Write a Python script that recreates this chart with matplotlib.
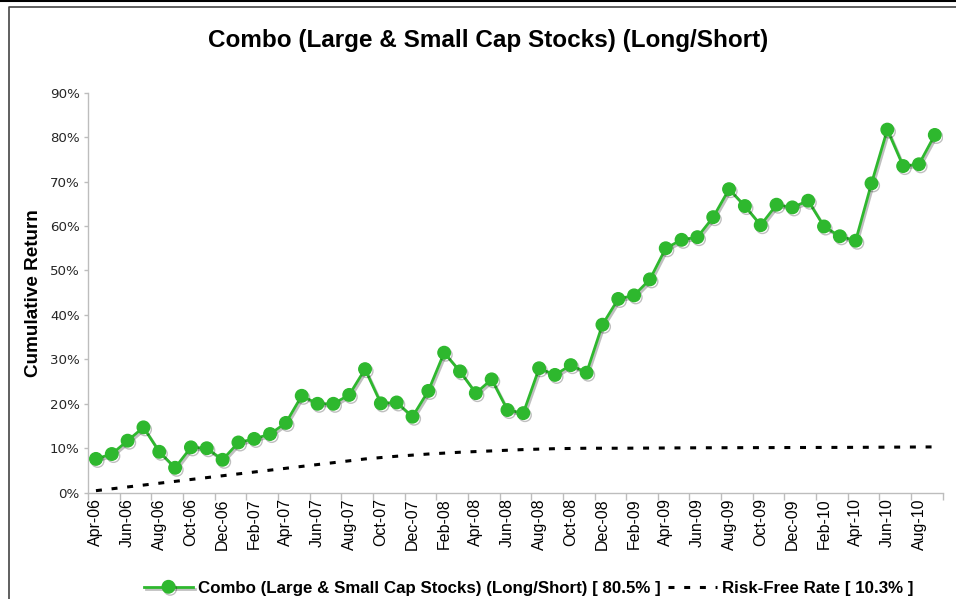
import matplotlib
matplotlib.use("Agg")
import matplotlib.pyplot as plt
import matplotlib.patheffects as pe
from matplotlib.lines import Line2D
from matplotlib.ticker import FixedLocator, PercentFormatter

plt.rcParams['font.family'] = ['Liberation Sans', 'DejaVu Sans']
plt.rcParams['lines.scale_dashes'] = False

# data (monthly, Apr-06 .. Sep-10), cumulative return in %
months = ['Apr-06', 'May-06', 'Jun-06', 'Jul-06', 'Aug-06', 'Sep-06', 'Oct-06', 'Nov-06', 'Dec-06',
          'Jan-07', 'Feb-07', 'Mar-07', 'Apr-07', 'May-07', 'Jun-07', 'Jul-07', 'Aug-07', 'Sep-07',
          'Oct-07', 'Nov-07', 'Dec-07', 'Jan-08', 'Feb-08', 'Mar-08', 'Apr-08', 'May-08', 'Jun-08',
          'Jul-08', 'Aug-08', 'Sep-08', 'Oct-08', 'Nov-08', 'Dec-08', 'Jan-09', 'Feb-09', 'Mar-09',
          'Apr-09', 'May-09', 'Jun-09', 'Jul-09', 'Aug-09', 'Sep-09', 'Oct-09', 'Nov-09', 'Dec-09',
          'Jan-10', 'Feb-10', 'Mar-10', 'Apr-10', 'May-10', 'Jun-10', 'Jul-10', 'Aug-10', 'Sep-10']
combo = [7.6, 8.7, 11.7, 14.7, 9.2, 5.6, 10.2, 10.0, 7.4, 11.3, 12.1, 13.2, 15.7, 21.8, 20.0,
         20.0, 22.0, 27.8, 20.1, 20.3, 17.1, 22.9, 31.5, 27.3, 22.4, 25.5, 18.6, 17.9, 28.0,
         26.5, 28.7, 27.0, 37.8, 43.6, 44.4, 48.0, 55.0, 56.9, 57.5, 62.0, 68.3, 64.5, 60.2,
         64.8, 64.2, 65.7, 59.9, 57.7, 56.7, 69.6, 81.7, 73.5, 73.9, 80.5]
risk_free = [0.45, 0.87, 1.29, 1.71, 2.13, 2.55, 2.97, 3.39, 3.81, 4.23, 4.65, 5.07, 5.49, 5.91,
             6.33, 6.75, 7.17, 7.59, 7.9, 8.2, 8.45, 8.7, 8.9, 9.1, 9.25, 9.4, 9.55, 9.7, 9.8,
             9.9, 9.95, 10.0, 10.0, 10.0, 10.02, 10.04, 10.06, 10.08, 10.1, 10.11, 10.12, 10.13,
             10.14, 10.15, 10.16, 10.17, 10.18, 10.19, 10.2, 10.22, 10.24, 10.26, 10.28, 10.3]
combo_label = 'Combo (Large & Small Cap Stocks) (Long/Short) [ 80.5% ]'
rf_label = 'Risk-Free Rate [ 10.3% ]'
title = 'Combo (Large & Small Cap Stocks) (Long/Short)'

green = '#2eb82e'
axis_gray = '#bdbdbd'

fig = plt.figure(figsize=(9.56, 5.99), dpi=100)
ax = fig.add_axes([0.0921, 0.1775, 0.894, 0.6677])

x = list(range(len(months)))
shadow = [pe.SimpleLineShadow(offset=(1.2, -1.5), shadow_color='black', alpha=0.25), pe.Normal()]
ax.plot(x, risk_free, color='black', lw=2.2, dashes=(4.3, 7.0), label=rf_label, zorder=2)
ax.plot(x, combo, color=green, lw=2.0, marker='o', markersize=9, label=combo_label,
        path_effects=shadow, zorder=3)

ax.set_xlim(-0.5, len(months) - 0.5)
ax.set_ylim(0, 90)
ax.yaxis.set_major_locator(FixedLocator(range(0, 91, 10)))
ax.yaxis.set_major_formatter(PercentFormatter(decimals=0))

# ticks between categories, labels on every second category
ax.xaxis.set_major_locator(FixedLocator([i - 0.5 for i in range(0, len(months) + 1, 2)]))
ax.xaxis.set_major_formatter(plt.NullFormatter())
ax.xaxis.set_minor_locator(FixedLocator(x[::2]))
ax.set_xticklabels(months[::2], minor=True, rotation=90, fontsize=11.5)
ax.tick_params(axis='x', which='minor', length=0, pad=4)
ax.tick_params(axis='x', which='major', length=5, color=axis_gray, width=1)
ax.tick_params(axis='y', length=3, color=axis_gray, width=1, pad=3, labelsize=9.6, labelcolor='#262626')
for lab in ax.get_yticklabels():
    lab.set_fontfamily('DejaVu Sans')

for s in ['top', 'right']:
    ax.spines[s].set_visible(False)
for s in ['left', 'bottom']:
    ax.spines[s].set_color(axis_gray)
    ax.spines[s].set_linewidth(1)

ax.set_ylabel('Cumulative Return', fontsize=13.6, fontweight='bold')
ax.yaxis.set_label_coords(-0.054, 0.5)
fig.text(0.511, 0.933, title, ha='center', va='center', fontsize=17.5, fontweight='bold')

h, l = ax.get_legend_handles_labels()
fig.legend(h[::-1], l[::-1], loc='center', bbox_to_anchor=(0.553, 0.018), ncol=2, frameon=False,
           prop={'weight': 'bold', 'size': 12.2}, handlelength=2.9, handletextpad=0.3,
           columnspacing=0.4, borderpad=0)

# outer frame like the screenshot
fig.add_artist(Line2D([0, 1], [0.999, 0.999], transform=fig.transFigure, color='black', lw=1.5))
fig.add_artist(Line2D([0.0099, 0.0099, 1], [0, 0.989, 0.989], transform=fig.transFigure,
                      color='#444444', lw=1.2))

fig.savefig('out.png', dpi=100)
